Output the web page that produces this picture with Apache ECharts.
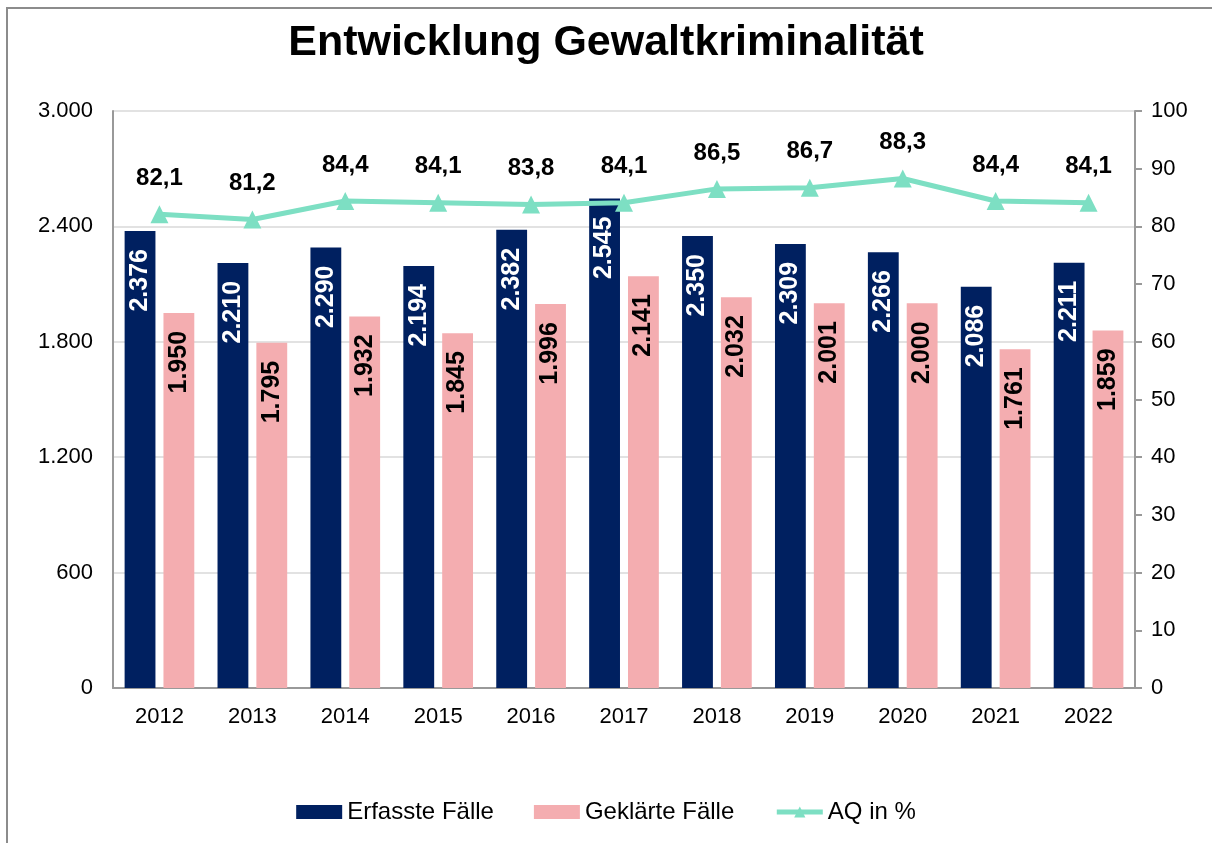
<!DOCTYPE html>
<html>
<head>
<meta charset="utf-8">
<script src="https://cdn.jsdelivr.net/npm/echarts@6/dist/echarts.min.js"></script>
<style>
  html, body { margin: 0; padding: 0; background: #fff; }
  #frame { position: absolute; left: 6px; top: 7px; width: 1300px; height: 900px; border: 2px solid #8c8c8c; }
  #chart { position: absolute; left: 0; top: 0; width: 1212px; height: 843px; }
</style>
</head>
<body>
<div id="frame"></div>
<div id="chart"></div>
<script>
// Daten
var jahre = ['2012', '2013', '2014', '2015', '2016', '2017', '2018', '2019', '2020', '2021', '2022'];
var erfasst = [2376, 2210, 2290, 2194, 2382, 2545, 2350, 2309, 2266, 2086, 2211];
var geklaert = [1950, 1795, 1932, 1845, 1996, 2141, 2032, 2001, 2000, 1761, 1859];
var aq = [82.1, 81.2, 84.4, 84.1, 83.8, 84.1, 86.5, 86.7, 88.3, 84.4, 84.1];
var legende = ['Erfasste Fälle', 'Geklärte Fälle', 'AQ in %'];

var font = 'Liberation Sans, Arial, sans-serif';

// 2376 -> 2.376
function tausend(v) {
  return String(v).replace(/\B(?=(\d{3})+(?!\d))/g, '.');
}
// 82.1 -> 82,1
function komma(v) {
  return v.toFixed(1).replace('.', ',');
}

var barLabel = {
  show: true,
  position: 'insideTop',
  rotate: 90,
  align: 'right',
  verticalAlign: 'middle',
  distance: 18,
  fontFamily: font,
  fontSize: 25,
  fontWeight: 'bold',
  formatter: function (p) { return tausend(p.value); }
};

var myChart = echarts.init(document.getElementById('chart'));
myChart.setOption({
  animation: false,
  title: {
    text: 'Entwicklung Gewaltkriminalität',
    left: 'center',
    top: 17,
    textStyle: { fontFamily: font, fontSize: 43, fontWeight: 'bold', color: '#000' }
  },
  legend: {
    data: [
      { name: legende[0], icon: 'rect' },
      { name: legende[1], icon: 'rect' },
      { name: legende[2], lineStyle: { width: 5 } }
    ],
    bottom: 14,
    left: 'center',
    itemWidth: 46,
    itemHeight: 14,
    itemGap: 40,
    textStyle: { fontFamily: font, fontSize: 24, color: '#000' }
  },
  grid: { left: 113, right: 77, top: 111, bottom: 155 },
  xAxis: {
    type: 'category',
    data: jahre,
    axisLine: { lineStyle: { color: '#999', width: 2 } },
    axisTick: { show: false },
    axisLabel: { fontFamily: font, fontSize: 22, color: '#000', margin: 18 }
  },
  yAxis: [
    {
      type: 'value',
      min: 0,
      max: 3000,
      interval: 600,
      axisLine: { show: true, lineStyle: { color: '#999', width: 2 } },
      axisTick: { show: false },
      splitLine: { lineStyle: { color: '#d9d9d9', width: 1.5 } },
      axisLabel: { fontFamily: font, fontSize: 22, color: '#000', margin: 20, formatter: tausend }
    },
    {
      type: 'value',
      min: 0,
      max: 100,
      interval: 10,
      axisLine: { show: true, lineStyle: { color: '#999', width: 2 } },
      axisTick: { show: true, length: 7, lineStyle: { color: '#999', width: 2 } },
      splitLine: { show: false },
      axisLabel: { fontFamily: font, fontSize: 22, color: '#000', margin: 16 }
    }
  ],
  series: [
    {
      name: legende[0],
      type: 'bar',
      data: erfasst,
      barGap: '26%',
      barCategoryGap: '25%',
      itemStyle: { color: '#002060' },
      label: Object.assign({}, barLabel, { color: '#fff' })
    },
    {
      name: legende[1],
      type: 'bar',
      data: geklaert,
      itemStyle: { color: '#f4adb0' },
      label: Object.assign({}, barLabel, { color: '#000' })
    },
    {
      name: legende[2],
      type: 'line',
      yAxisIndex: 1,
      data: aq,
      z: 5,
      symbol: 'triangle',
      symbolSize: 18,
      lineStyle: { color: '#7ddfc3', width: 5 },
      itemStyle: { color: '#7ddfc3' },
      label: {
        show: true,
        position: 'top',
        distance: 15,
        fontFamily: font,
        fontSize: 24,
        fontWeight: 'bold',
        color: '#000',
        formatter: function (p) { return komma(p.value); }
      }
    }
  ]
});
</script>
</body>
</html>
